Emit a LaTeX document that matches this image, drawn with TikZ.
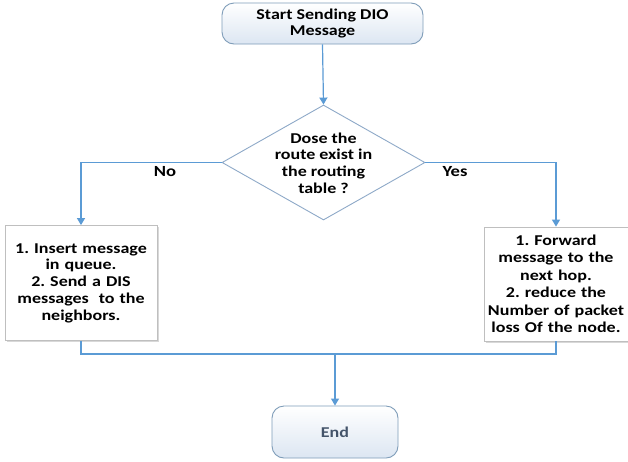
\documentclass[tikz,border=0pt]{standalone}
\usepackage{fontspec}
\setmainfont{Carlito}[FakeStretch=1.2]
\usetikzlibrary{shapes.geometric,arrows.meta,shadows,calc}
\definecolor{linkblue}{HTML}{5B9BD5}
\definecolor{termborder}{HTML}{7F9DB9}
\definecolor{termfill}{HTML}{DCE6F2}
\definecolor{diaborder}{HTML}{8EA9C8}
\definecolor{endtext}{HTML}{44546A}
\tikzset{
  txt/.style={align=center, font=\frenchspacing\bfseries\fontsize{15}{16.8}\selectfont, inner sep=0pt},
  termbox/.style={txt, draw=termborder, line width=0.9pt, rounded corners=12pt, top color=white, bottom color=termfill},
  decision/.style={diamond, draw=diaborder, line width=0.9pt, fill=white, inner sep=0pt, aspect=1.77},
  procbox/.style={txt, draw=black!25, line width=0.8pt, fill=white, drop shadow={opacity=0.3, shadow xshift=1.5pt, shadow yshift=-1.5pt}},
  flow/.style={draw=linkblue, line width=1.2pt},
  flowarrow/.style={flow, -{Triangle[width=8pt,length=7pt]}},
  lbl/.style={font=\bfseries\fontsize{15.5}{16}\selectfont, inner sep=0pt}
}
\begin{document}
\begin{tikzpicture}[x=1pt,y=-1pt]
\fill[white] (0,0) rectangle (628,461);
\useasboundingbox (0,0) rectangle (628,461);
\node[termbox, minimum width=201pt, minimum height=41pt, font=\frenchspacing\bfseries\fontsize{15}{15.5}\selectfont] (start) at (322.5,23.5) {Start Sending DIO\\Message};
\node[decision, minimum width=203pt, minimum height=115pt] (dec) at (323.5,162.5) {};
\node[txt] (dectext) at (323.5,163) {Dose the\\route exist in\\the routing\\table ?};
\node[procbox, minimum width=152pt, minimum height=115pt, text width=150pt] (left) at (81,283) {1. Insert message\\in queue.\\2. Send a DIS\\messages\ \ to the\\neighbors.};
\node[procbox, minimum width=144pt, minimum height=114pt, text width=142pt, font=\frenchspacing\bfseries\fontsize{15}{17.5}\selectfont] (right) at (556,284) {1. Forward\\message to the\\next hop.\\2. reduce the\\Number of packet\\loss Of the node.};
\node[termbox, minimum width=126pt, minimum height=52pt, text=endtext] (end) at (335,432) {End};
\coordinate (join) at (335,354);
\node[lbl] (no) at (165,172) {No};
\node[lbl] (yes) at (455,172) {Yes};
\draw[flowarrow] (start.south) -- (dec.north);
\draw[flowarrow] (dec.west) -| (left.north);
\draw[flowarrow] (dec.east) -| (right.north);
\draw[flow] (left.south) |- (join) -| (right.south);
\draw[flowarrow] (join) -- (end.north);
\end{tikzpicture}
\end{document}
